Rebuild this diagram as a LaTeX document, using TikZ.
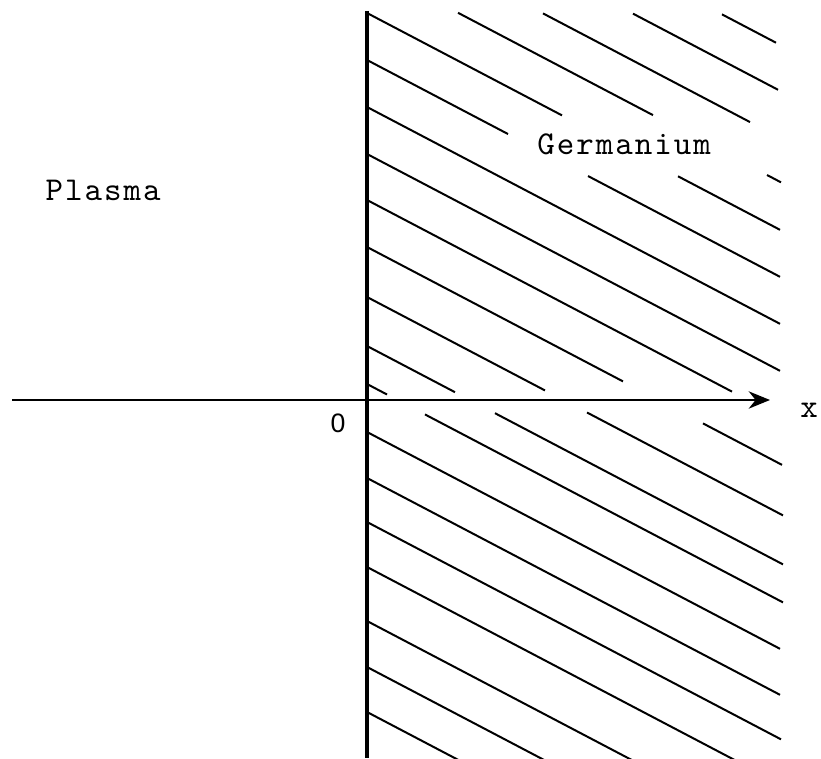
\documentclass[tikz,border=0pt]{standalone}
\usepackage{fontspec}
\newfontfamily\courfont{lmmono10-regular.otf}[LetterSpace=6]
\newfontfamily\digitfont{Liberation Sans}
\usepackage{tikz}
\usetikzlibrary{arrows.meta}

\begin{document}
\begin{tikzpicture}[x=0.75pt, y=-0.75pt, >={Stealth[length=16pt, width=13pt]},
    hatch/.style={line width=1.5pt},
    wall/.style={line width=3.4pt},
    mtext/.style={font=\courfont\fontsize{25}{30}\selectfont, anchor=base}]
  \useasboundingbox (0,0) rectangle (821,759);
  % --- Interface and axis ---
  \coordinate (wtop) at (367,11);
  \coordinate (wbot) at (367,758);
  \coordinate (xstart) at (12,400);
  \coordinate (xend) at (770,400);
  \draw[line width=1.5pt, ->] (xstart) -- (xend);
  \draw[wall] (wtop) -- (wbot);
  % --- Hatching: y = c + 0.525 (x - 367), broken by text and axis ---
  \foreach \c/\xa/\xb in {-172/722/776, -126/633/778, -79/543/750,
      -35/458/653, -35/767/781, 13/367/562, 13/678/780,
      60/367/508, 60/588/780, 107/367/780, 154/367/780,
      200/367/732, 247/367/623, 297/367/545, 346/367/455, 384/367/387,
      384/425/783, 346/495/783, 297/587/783, 247/703/782,
      432/367/780, 478/367/780, 522/367/781, 567/367/738,
      621/367/637, 667/367/548, 712/367/460}
    \draw[hatch] (\xa, {\c+0.525*(\xa-367)}) -- (\xb, {\c+0.525*(\xb-367)});
  % --- Labels ---
  \node[mtext] (plasma) at (103,201) {Plasma};
  \node[mtext] (germanium) at (624,155) {Germanium};
  \node[mtext, font=\digitfont\fontsize{20}{24}\selectfont] (origin) at (338,432) {0};
  \node[mtext] (xlabel) at (809,417) {x};
\end{tikzpicture}
\end{document}
